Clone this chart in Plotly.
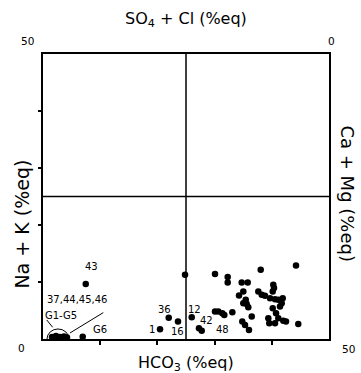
import plotly.graph_objects as go

# Data (x: HCO3 axis units 0-50, y: Na+K axis units 0-50)
pts_x = [30.07, 32.29, 32.29, 34.74, 35.79, 35.02, 34.27, 35.44, 35.61, 35.02,
         35.89, 33.10, 30.07, 30.65, 31.35, 31.70, 26.00, 34.84, 35.32, 36.01,
         27.27, 27.75, 24.83, 38.06, 44.23, 40.26, 40.39, 40.16, 37.64, 38.24,
         38.81, 39.69, 40.56, 41.14, 41.91, 41.73, 41.43, 40.16, 40.74, 41.14,
         39.39, 39.56, 40.56, 42.01, 42.48, 44.63, 36.49,
         7.47, 21.98, 23.60, 20.46, 6.94,
         1.57, 2.27, 2.97, 3.67, 4.20]
pts_y = [11.39, 10.86, 9.91, 9.91, 9.91, 8.33, 7.62, 6.87, 6.16, 6.29,
         5.58, 4.70, 4.81, 4.81, 4.52, 4.23, 3.82, 3.05, 2.46, 1.58,
         1.88, 1.46, 11.27, 12.15, 12.91, 9.51, 8.93, 8.33, 8.33, 7.75,
         7.57, 7.17, 6.99, 6.87, 7.17, 6.29, 5.69, 5.40, 4.52, 3.64,
         3.64, 2.76, 2.76, 3.22, 3.05, 2.64, 3.93,
         9.63, 3.75, 3.05, 1.71, 0.40,
         0.35, 0.53, 0.35, 0.44, 0.26]

label_text = ["43", "37,44,45,46", "G1-G5", "G6", "36", "1", "16", "12", "42", "48"]
label_x = [8.51, 6.03, 3.09, 9.97, 21.21, 19.0, 23.48, 26.57, 28.62, 31.35]
label_y = [12.73, 6.87, 4.05, 1.71, 5.23, 1.71, 1.29, 5.23, 3.22, 1.58]

# corner scale labels (paper coordinates)
corner_text = ["50", "0", "0", "50"]
corner_px = [-0.0559, 1.0094, -0.0745, 1.0675]
corner_py = [1.0458, 1.0458, -0.0327, -0.0352]

tick_vals = [10, 20, 30, 40]

FONT = "DejaVu Sans"

fig = go.Figure()
fig.add_trace(go.Scatter(x=pts_x, y=pts_y, mode="markers",
                         marker=dict(color="black", size=6.5),
                         showlegend=False, cliponaxis=False))

C = dict(xanchor="center", yanchor="middle", showarrow=False)

annotations = []
for t, x, y in zip(label_text, label_x, label_y):
    annotations.append(dict(x=x, y=y, text=t, xref="x", yref="y",
                            font=dict(family=FONT, size=10, color="black"), **C))
for t, x, y in zip(corner_text, corner_px, corner_py):
    annotations.append(dict(x=x, y=y, text=t, xref="paper", yref="paper",
                            font=dict(family=FONT, size=10.5, color="black"), **C))

annotations += [
    dict(x=0.5, y=1.1197, text="SO<sub>4</sub> + Cl (%eq)",
         xref="paper", yref="paper", font=dict(family=FONT, size=16, color="black"), **C),
    dict(x=0.5, y=-0.0845, text="HCO<sub>3</sub> (%eq)",
         xref="paper", yref="paper", font=dict(family=FONT, size=16, color="black"), **C),
    dict(x=-0.0734, y=0.4014, text="Na + K (%eq)", textangle=-90,
         xref="paper", yref="paper", font=dict(family=FONT, size=19, color="black"), **C),
    dict(x=1.0664, y=0.5106, text="Ca + Mg (%eq)", textangle=90,
         xref="paper", yref="paper", font=dict(family=FONT, size=18, color="black"), **C),
]

shapes = [
    dict(type="line", xref="x", yref="y", x0=25, x1=25, y0=0, y1=50,
         line=dict(color="black", width=1.5)),
    dict(type="line", xref="x", yref="y", x0=0, x1=50, y0=25, y1=25,
         line=dict(color="black", width=1.5)),
    dict(type="circle", xref="x", yref="y", x0=0.70, x1=4.55, y0=-1.76, y1=1.76,
         line=dict(color="black", width=1)),
    dict(type="line", xref="x", yref="y", x0=0.64, y0=3.35, x1=1.69, y1=2.06,
         line=dict(color="black", width=1)),
    dict(type="line", xref="x", yref="y", x0=4.72, y0=1.06, x1=10.54, y1=4.63,
         line=dict(color="black", width=1)),
]

fig.update_layout(
    width=361, height=373,
    margin=dict(l=43, r=32, t=54, b=34),
    paper_bgcolor="white", plot_bgcolor="white",
    showlegend=False,
    annotations=annotations,
    shapes=shapes,
    xaxis=dict(range=[0, 50], showgrid=False, zeroline=False, showline=True,
               linecolor="black", linewidth=2, mirror=True,
               tickvals=tick_vals, ticks="outside", ticklen=4, tickcolor="black",
               tickwidth=1.5, showticklabels=False, fixedrange=True),
    yaxis=dict(range=[0, 50], showgrid=False, zeroline=False, showline=True,
               linecolor="black", linewidth=2, mirror=True,
               tickvals=tick_vals, ticks="outside", ticklen=3, tickcolor="black",
               tickwidth=1.5, showticklabels=False, fixedrange=True),
)

fig.write_html("out.html", config={"displayModeBar": False})
